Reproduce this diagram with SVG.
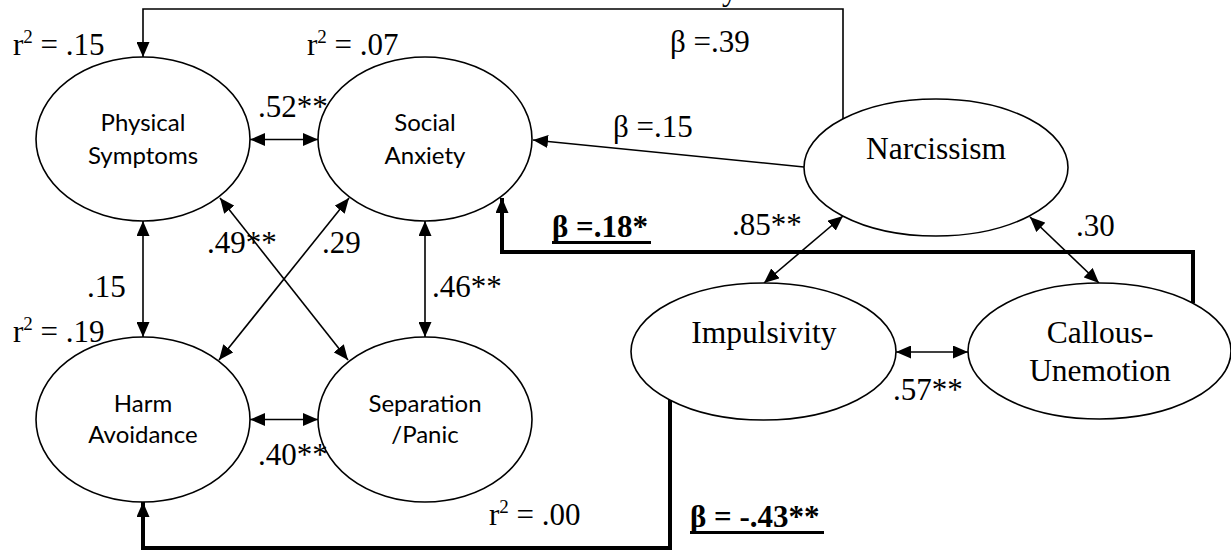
<svg xmlns="http://www.w3.org/2000/svg" width="1231" height="550" viewBox="0 0 1231 550">
<style>
  .node ellipse { fill: #fff; stroke: #000; stroke-width: 1.6; }
  .sans { font-family: Lato, "Open Sans", "Liberation Sans", sans-serif; font-size: 24px; fill: #000; text-anchor: middle; }
  .name { font-family: "Liberation Serif", "Times New Roman", serif; font-size: 31.5px; fill: #000; text-anchor: middle; }
  .lbl { font-family: "Liberation Serif", "Times New Roman", serif; font-size: 31px; fill: #000; }
  .bold { font-weight: bold; }
  .thin { fill: none; stroke: #000; stroke-width: 1.6; }
  .thick { fill: none; stroke: #000; stroke-width: 4; stroke-linejoin: miter; }
  .ul { stroke: #000; stroke-width: 3; }
</style>
<defs>
  <marker id="ah" viewBox="0 0 15 13" refX="15" refY="6.5" markerWidth="15" markerHeight="13" markerUnits="userSpaceOnUse" orient="auto-start-reverse">
    <path d="M0,0 L15,6.5 L0,13 z" fill="#000"/>
  </marker>
</defs>
<rect width="1231" height="550" fill="#fff"/>

<g id="connectors">
  <path class="thin" d="M843,119 V9 H143 V57" marker-end="url(#ah)"/>
  <path class="thin" d="M804,167 L533,140" marker-end="url(#ah)"/>
  <path class="thin" d="M250,139.5 H318" marker-start="url(#ah)" marker-end="url(#ah)"/>
  <path class="thin" d="M143,221 V337" marker-start="url(#ah)" marker-end="url(#ah)"/>
  <path class="thin" d="M425,221 V337" marker-start="url(#ah)" marker-end="url(#ah)"/>
  <path class="thin" d="M250,419.5 H318" marker-start="url(#ah)" marker-end="url(#ah)"/>
  <path class="thin" d="M220,198 L348,360" marker-start="url(#ah)" marker-end="url(#ah)"/>
  <path class="thin" d="M349,198 L219,360" marker-start="url(#ah)" marker-end="url(#ah)"/>
  <path class="thin" d="M843,216 L764,283" marker-start="url(#ah)" marker-end="url(#ah)"/>
  <path class="thin" d="M1030,217 L1099,283" marker-start="url(#ah)" marker-end="url(#ah)"/>
  <path class="thin" d="M896,352 H968" marker-start="url(#ah)" marker-end="url(#ah)"/>
  <path class="thick" d="M1193,303 V252 H502 V198" marker-end="url(#ah)"/>
  <path class="thick" d="M670,400 V548 H143 V502" marker-end="url(#ah)"/>
</g>

<g id="node-physical" class="node">
  <ellipse cx="143" cy="139" rx="107" ry="82"/>
  <text class="sans" x="143" y="131">Physical</text>
  <text class="sans" x="143" y="164">Symptoms</text>
</g>
<g id="node-social" class="node">
  <ellipse cx="425" cy="139" rx="107" ry="82"/>
  <text class="sans" x="425" y="131">Social</text>
  <text class="sans" x="425" y="164">Anxiety</text>
</g>
<g id="node-harm" class="node">
  <ellipse cx="143" cy="419.5" rx="107" ry="82.5"/>
  <text class="sans" x="143" y="412">Harm</text>
  <text class="sans" x="143" y="443">Avoidance</text>
</g>
<g id="node-separation" class="node">
  <ellipse cx="425" cy="419.5" rx="107" ry="82.5"/>
  <text class="sans" x="425" y="412">Separation</text>
  <text class="sans" x="425" y="443">/Panic</text>
</g>
<g id="node-narcissism" class="node">
  <ellipse cx="936" cy="167.5" rx="132" ry="68.5"/>
  <text class="name" x="936" y="159">Narcissism</text>
</g>
<g id="node-impulsivity" class="node">
  <ellipse cx="763.5" cy="351.5" rx="132.5" ry="68.5"/>
  <text class="name" x="764" y="343">Impulsivity</text>
</g>
<g id="node-callous" class="node">
  <ellipse cx="1099.5" cy="351" rx="131.5" ry="68"/>
  <text class="name" x="1100" y="343">Callous-</text>
  <text class="name" x="1100" y="381">Unemotion</text>
</g>

<g id="labels">
  <text class="lbl" x="722" y="0">y</text>
  <text class="lbl" x="13" y="55">r<tspan font-size="19" dy="-12">2</tspan><tspan dy="12"> = .15</tspan></text>
  <text class="lbl" x="307" y="55">r<tspan font-size="19" dy="-12">2</tspan><tspan dy="12"> = .07</tspan></text>
  <text class="lbl" x="13" y="342">r<tspan font-size="19" dy="-12">2</tspan><tspan dy="12"> = .19</tspan></text>
  <text class="lbl" x="489" y="525">r<tspan font-size="19" dy="-12">2</tspan><tspan dy="12"> = .00</tspan></text>
  <text class="lbl" x="670" y="52">β =.39</text>
  <text class="lbl" x="613" y="137">β =.15</text>
  <text class="lbl" x="258" y="117">.52**</text>
  <text class="lbl" x="207" y="253">.49**</text>
  <text class="lbl" x="322" y="253">.29</text>
  <text class="lbl" x="87" y="297">.15</text>
  <text class="lbl" x="432" y="297">.46**</text>
  <text class="lbl" x="258" y="465">.40**</text>
  <text class="lbl" x="732" y="235">.85**</text>
  <text class="lbl" x="1076" y="236">.30</text>
  <text class="lbl" x="893" y="400">.57**</text>
  <text class="lbl bold" x="552" y="237">β =.18*</text>
  <line class="ul" x1="552" y1="242.5" x2="651" y2="242.5"/>
  <text class="lbl bold" x="690" y="527">β = -.43**</text>
  <line class="ul" x1="690" y1="532.5" x2="824" y2="532.5"/>
</g>
</svg>
